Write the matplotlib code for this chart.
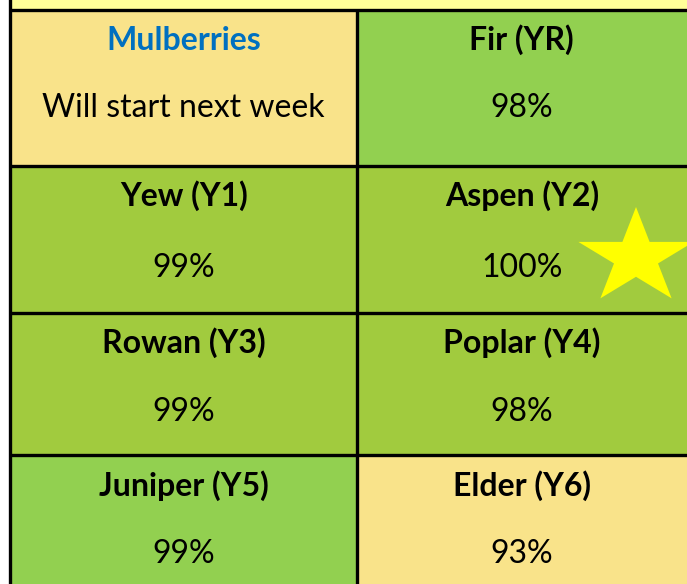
import matplotlib.pyplot as plt
from matplotlib.patches import Rectangle, Polygon
import numpy as np

plt.rcParams['font.family'] = ['Lato', 'DejaVu Sans']

# table contents, row by row (left cell, right cell)
names = [['Mulberries', 'Fir (YR)'],
         ['Yew (Y1)', 'Aspen (Y2)'],
         ['Rowan (Y3)', 'Poplar (Y4)'],
         ['Juniper (Y5)', 'Elder (Y6)']]
values = [['Will start next week', '98%'],
          ['99%', '100%'],
          ['99%', '98%'],
          ['99%', '93%']]
fills = [['#F9E38A', '#92D050'],
         ['#A1CB3E', '#A1CB3E'],
         ['#A1CB3E', '#A1CB3E'],
         ['#92D050', '#F9E38A']]
name_colors = [['#0070C0', 'black'],
               ['black', 'black'],
               ['black', 'black'],
               ['black', 'black']]

# layout in pixels
W, H = 687, 584
row_edges = [11, 167, 314, 456, 590]
col_edges = [11, 356.5, 700]
head_off = [29, 29, 29, 30]
val_off = [97, 101, 98, 98]

fig = plt.figure(figsize=(W / 100, H / 100), dpi=100)
ax = fig.add_axes([0, 0, 1, 1])
ax.set_xlim(0, W)
ax.set_ylim(H, 0)
ax.axis('off')

# top strip
ax.add_patch(Rectangle((11, -5), W, 16, facecolor='#FFFF99', edgecolor='none'))

for r in range(4):
    y0, y1 = row_edges[r], row_edges[r + 1]
    for c in range(2):
        x0, x1 = col_edges[c], col_edges[c + 1]
        ax.add_patch(Rectangle((x0, y0), x1 - x0, y1 - y0,
                               facecolor=fills[r][c], edgecolor='none'))
        xc = (x0 + x1) / 2 if c == 0 else (x0 + W) / 2
        ax.text(xc, y0 + head_off[r], names[r][c], ha='center', va='center',
                fontsize=23, fontweight='bold', color=name_colors[r][c])
        ax.text(xc, y0 + val_off[r], values[r][c], ha='center', va='center',
                fontsize=23, color='black')

# grid lines
for y in row_edges[:-1]:
    ax.plot([9.5, W + 5], [y - 1.5, y - 1.5], color='black', lw=2.4,
            solid_capstyle='butt')
ax.plot([9.5, 9.5], [-5, H + 5], color='black', lw=2.4, solid_capstyle='butt')
ax.plot([356.5, 356.5], [11, H + 5], color='black', lw=2.4, solid_capstyle='butt')

# star next to Aspen
cx, cy, R = 636, 257.5, 50.5
ang = np.pi / 2 + np.arange(10) * np.pi / 5
rad = np.where(np.arange(10) % 2 == 0, R, R * 0.382)
pts = np.column_stack([cx + 1.2 * rad * np.cos(ang), cy - rad * np.sin(ang)])
ax.add_patch(Polygon(pts, closed=True, facecolor='#FFFF00', edgecolor='none'))

fig.savefig('out.png', dpi=100)
